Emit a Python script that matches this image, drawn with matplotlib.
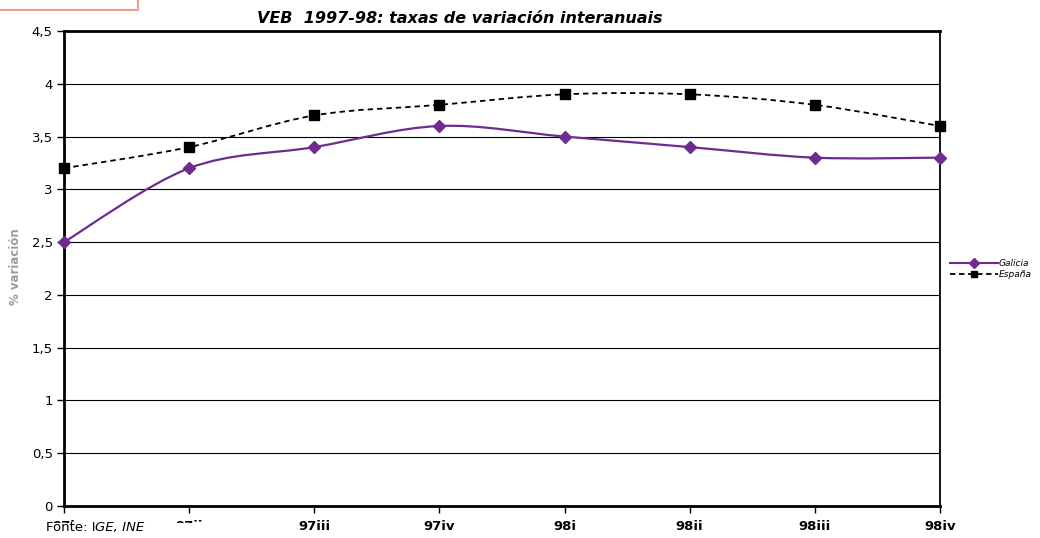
import matplotlib
matplotlib.use("Agg")

import matplotlib.pyplot as plt
from matplotlib.path import Path
from matplotlib.patches import PathPatch, Rectangle

plt.rcParams["font.family"] = ["DejaVu Sans"]

quarters = ["97i", "97ii", "97iii", "97iv", "98i", "98ii", "98iii", "98iv"]
galicia = [2.5, 3.2, 3.4, 3.6, 3.5, 3.4, 3.3, 3.3]
espana = [3.2, 3.4, 3.7, 3.8, 3.9, 3.9, 3.8, 3.6]
y_ticks = [0, 0.5, 1, 1.5, 2, 2.5, 3, 3.5, 4, 4.5]
y_labels = ["0", "0,5", "1", "1,5", "2", "2,5", "3", "3,5", "4", "4,5"]

PURPLE = "#6E2C8E"


def smooth_path(xs, ys):
    # Excel-like smoothed line: Catmull-Rom converted to cubic Bezier segments
    pts = list(zip(xs, ys))
    verts = [pts[0]]
    codes = [Path.MOVETO]
    n = len(pts)
    for i in range(n - 1):
        p0 = pts[i - 1] if i > 0 else pts[i]
        p1 = pts[i]
        p2 = pts[i + 1]
        p3 = pts[i + 2] if i + 2 < n else pts[i + 1]
        c1 = (p1[0] + (p2[0] - p0[0]) / 6, p1[1] + (p2[1] - p0[1]) / 6)
        c2 = (p2[0] - (p3[0] - p1[0]) / 6, p2[1] - (p3[1] - p1[1]) / 6)
        verts += [c1, c2, p2]
        codes += [Path.CURVE4] * 3
    return Path(verts, codes)


fig = plt.figure(figsize=(10.4, 5.38), dpi=100)
ax = fig.add_axes([0.0615, 0.0595, 0.9038 - 0.0615, 0.9424 - 0.0595])

x = list(range(len(quarters)))

ax.add_patch(PathPatch(smooth_path(x, galicia), facecolor="none", edgecolor=PURPLE,
                       linewidth=1.6, zorder=3))
ax.add_patch(PathPatch(smooth_path(x, espana), facecolor="none", edgecolor="black",
                       linewidth=1.3, linestyle=(0, (3, 2.2)), zorder=3))
ax.plot(x, galicia, linestyle="none", marker="D", markersize=6, color=PURPLE,
        zorder=4, clip_on=False)
ax.plot(x, espana, linestyle="none", marker="s", markersize=6.5, color="black",
        zorder=4, clip_on=False)

ax.set_xlim(0, len(quarters) - 1)
ax.set_ylim(0, 4.5)
ax.set_yticks(y_ticks)
ax.set_yticklabels(y_labels, fontsize=9.5)
ax.set_xticks(x)
ax.set_xticklabels(quarters, fontsize=9.5, fontweight="bold")
ax.tick_params(axis="both", direction="out", length=5, width=1, pad=3)
ax.tick_params(axis="x", pad=5)
ax.yaxis.grid(True, color="black", linewidth=0.8)
ax.set_axisbelow(True)
for side in ax.spines.values():
    side.set_linewidth(1.3)
ax.spines["left"].set_linewidth(2)
ax.spines["bottom"].set_linewidth(2)
ax.spines["top"].set_linewidth(2)

fig.text(0.442, 0.966, "VEB  1997-98: taxas de variación interanuais", fontsize=11.5,
         fontweight="bold", fontstyle="italic", ha="center", va="center")

# legend drawn at the right margin
leg_handles = [
    plt.Line2D([], [], color=PURPLE, marker="D", markersize=5, linewidth=1.5),
    plt.Line2D([], [], color="black", marker="s", markersize=5, linewidth=1.3,
               linestyle=(0, (3, 2))),
]
fig.legend(leg_handles, ["Galicia", "España"], loc="center left",
           bbox_to_anchor=(0.909, 0.5), frameon=False,
           prop={"size": 6.5, "style": "italic"}, handlelength=5.3,
           labelspacing=0.25, handletextpad=0.15, borderpad=0)

# blurred axis label
fig.text(0.015, 0.505, "% variación", rotation=90, fontsize=8.5, color="#7a7a7a",
         fontweight="bold", ha="center", va="center", alpha=0.75)

# source note covering the first tick labels
fig.patches.append(Rectangle((0.042, 0.0), 0.155, 0.028, transform=fig.transFigure,
                             facecolor="white", edgecolor="none", zorder=10))
t1 = fig.text(0.044, 0.008, "Fonte: I", fontsize=9.5, ha="left", va="bottom", zorder=11)
fig.add_artist(plt.Annotation("GE, INE", xy=(1, 0), xycoords=t1, xytext=(0, 0),
                              textcoords="offset points", fontsize=9.5,
                              fontstyle="italic", ha="left", va="bottom", zorder=11))

# partial box in the top-left corner
fig.patches.append(Rectangle((-0.01, 0.981), 0.143, 0.05, transform=fig.transFigure,
                             facecolor="white", edgecolor="#F0A090", linewidth=1.5))

fig.savefig("out.png", dpi=100)
